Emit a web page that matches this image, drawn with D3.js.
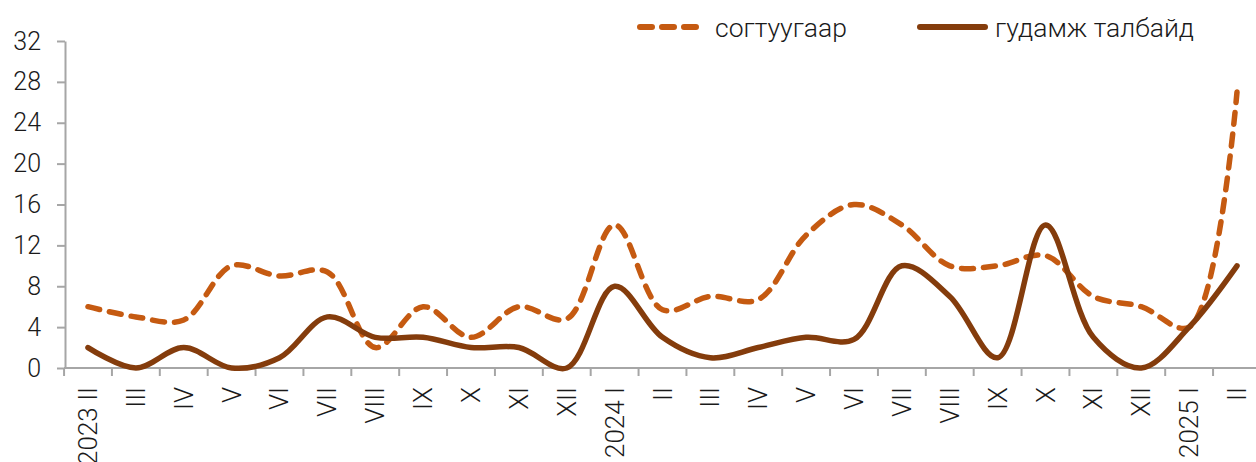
<!DOCTYPE html>
<html>
<head>
<meta charset="utf-8">
<script src="https://cdn.jsdelivr.net/npm/d3@7"></script>
<style>
  body { margin: 0; background: #fff; }
  svg text { font-family: Roboto, "Noto Sans", sans-serif; font-weight: 300; fill: #1a1a1a; }
</style>
</head>
<body>
<div id="chart"></div>
<script>
'use strict';

// months, 2023 II .. 2025 II
const months = [
  '2023 II', 'III', 'IV', 'V', 'VI', 'VII', 'VIII', 'IX', 'X', 'XI', 'XII',
  '2024 I', 'II', 'III', 'IV', 'V', 'VI', 'VII', 'VIII', 'IX', 'X', 'XI', 'XII',
  '2025 I', 'II'
];
const seriesNames = ['согтуугаар', 'гудамж талбайд'];

const drunk  = [6, 5, 4.7, 10, 9, 9.4, 2, 6, 3, 6, 4.8, 14, 5.7, 7, 6.7, 13, 16, 14, 10, 10, 11, 7, 6, 4, 27];
const street = [2, 0, 2, 0, 1, 5, 3, 3, 2, 2, 0, 8, 3, 1, 2, 3, 2.8, 10, 7, 1, 14, 3, 0, 4, 10];

const yTicks = [0, 4, 8, 12, 16, 20, 24, 28, 32];

const w = 1256;
const h = 462;
const colors = ['#C55A11', '#843C0C'];
const axisColor = '#a6a6a6';

const svg = d3.select('#chart')
  .append('svg')
  .attr('width', w)
  .attr('height', h);

// band scale for the month slots, centres from 88 to 1237
const x = d3.scaleBand()
  .domain(d3.range(months.length))
  .range([64.06, 1260.94])
  .padding(0);
const cx = i => x(i) + x.bandwidth() / 2;

const y = d3.scaleLinear()
  .domain([0, 32])
  .range([368, 41]);

// y axis
const yAxis = svg.append('g')
  .attr('transform', 'translate(65,0)')
  .call(d3.axisLeft(y).tickValues(yTicks).tickSize(8).tickSizeOuter(0).tickPadding(16));
yAxis.select('.domain').attr('stroke', axisColor).attr('stroke-width', 2);
yAxis.selectAll('.tick line').attr('stroke', axisColor).attr('stroke-width', 2);
yAxis.selectAll('.tick text')
  .attr('font-size', 25)
  .attr('fill', '#1a1a1a');

// x axis: baseline, ticks between months, rotated labels
svg.append('line')
  .attr('x1', 64).attr('x2', w)
  .attr('y1', y(0)).attr('y2', y(0))
  .attr('stroke', axisColor)
  .attr('stroke-width', 2);

svg.append('g')
  .selectAll('line')
  .data(d3.range(months.length + 1))
  .join('line')
  .attr('x1', i => i < months.length ? x(i) : x(i - 1) + x.bandwidth())
  .attr('x2', i => i < months.length ? x(i) : x(i - 1) + x.bandwidth())
  .attr('y1', y(0))
  .attr('y2', y(0) + 8)
  .attr('stroke', axisColor)
  .attr('stroke-width', 2);

svg.append('g')
  .selectAll('text')
  .data(months)
  .join('text')
  .attr('transform', (d, i) => `translate(${cx(i) + 9},${y(0) + 19}) rotate(-90)`)
  .attr('text-anchor', 'end')
  .attr('font-size', 26)
  .text(d => d);

// lines
const line = d3.line()
  .x((d, i) => cx(i))
  .y(d => y(d))
  .curve(d3.curveCatmullRom.alpha(0.5));

svg.append('path')
  .datum(drunk)
  .attr('d', line)
  .attr('fill', 'none')
  .attr('stroke', colors[0])
  .attr('stroke-width', 5.5)
  .attr('stroke-linecap', 'round')
  .attr('stroke-dasharray', '12,10');

svg.append('path')
  .datum(street)
  .attr('d', line)
  .attr('fill', 'none')
  .attr('stroke', colors[1])
  .attr('stroke-width', 5.5)
  .attr('stroke-linecap', 'round');

// legend
const legend = svg.append('g');
const legendItems = [
  { x: 640, dash: '12,10' },
  { x: 920, dash: null }
];
legendItems.forEach((it, i) => {
  legend.append('line')
    .attr('x1', it.x).attr('x2', it.x + 65)
    .attr('y1', 27).attr('y2', 27)
    .attr('stroke', colors[i])
    .attr('stroke-width', 6)
    .attr('stroke-linecap', 'round')
    .attr('stroke-dasharray', it.dash);
  legend.append('text')
    .attr('x', it.x + 75)
    .attr('y', 37)
    .attr('font-size', 26.5)
    .text(seriesNames[i]);
});
</script>
</body>
</html>
